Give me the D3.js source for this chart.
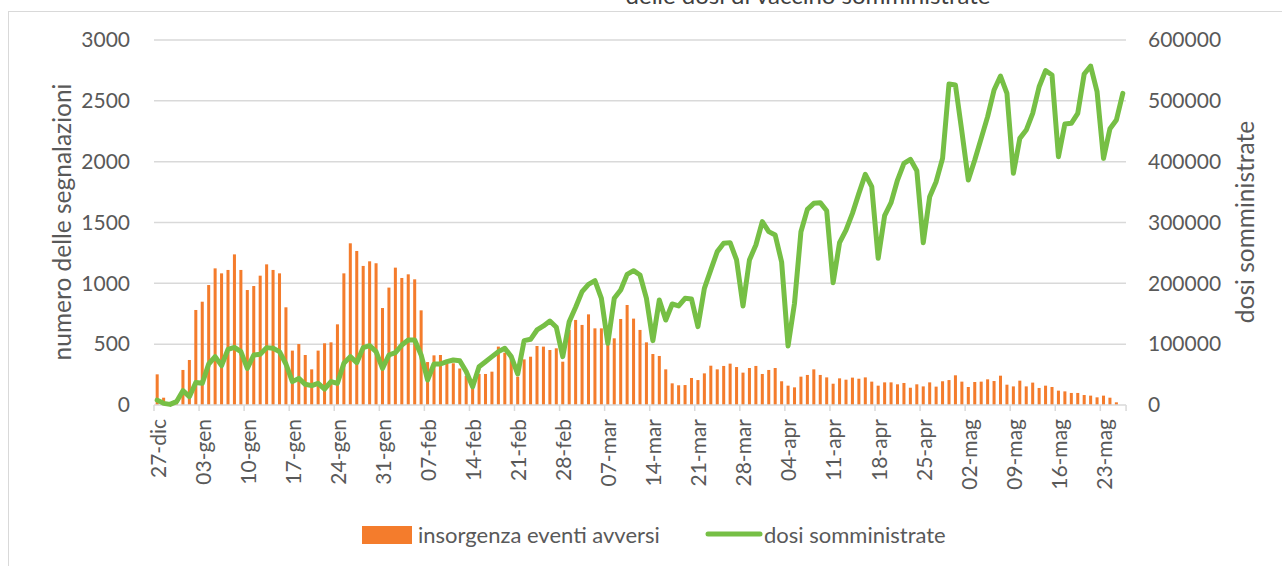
<!DOCTYPE html>
<html>
<head>
<meta charset="utf-8">
<script src="https://cdn.jsdelivr.net/npm/d3@7"></script>
<style>
  body { margin: 0; background: #fff; }
  svg text { font-family: Lato, "Open Sans", sans-serif; fill: #595959; }
</style>
</head>
<body>
<svg id="chart" width="1282" height="566"></svg>
<script>
// daily series, 27-dic 2020 .. 26-mag 2021
const startDate = new Date(2020, 11, 27);

const eventi = [
  252, 60, 15, 25, 288, 370, 781, 849, 986, 1123, 1082, 1110, 1238, 1110,
  945, 978, 1063, 1156, 1110, 1082, 803, 447, 501, 411, 293, 447, 507, 515,
  663, 1082, 1329, 1266, 1143, 1181, 1165, 797, 965, 1129, 1044, 1074, 1033, 778,
  353, 408, 411, 343, 343, 300, 240, 160, 255, 255, 274, 480, 430, 411,
  233, 375, 397, 485, 480, 452, 466, 356, 617, 699, 658, 745, 630, 630,
  560, 548, 707, 822, 710, 617, 515, 419, 403, 293, 178, 162, 164, 222,
  205, 260, 323, 293, 321, 340, 312, 266, 304, 321, 255, 288, 304, 195,
  159, 145, 233, 247, 293, 247, 227, 175, 219, 208, 225, 216, 227, 192,
  159, 186, 186, 170, 181, 142, 170, 153, 186, 151, 195, 205, 244, 192,
  148, 189, 192, 211, 197, 241, 167, 153, 200, 153, 184, 140, 159, 148,
  118, 112, 99, 99, 82, 77, 63, 77, 60, 22, 0
];

const dosi = [
  8000, 2700, 1000, 5500, 23500, 13700, 37000, 35600, 67400, 79500, 64700, 91500, 94800, 87700,
  60300, 82200, 83300, 94300, 93200, 87700, 67400, 38400, 43800, 34000, 31800, 35600, 26300, 38400,
  35600, 68500, 79500, 69600, 94300, 97500, 87700, 60300, 82200, 86000, 98600, 106900, 106900, 82200,
  41100, 67400, 67400, 71200, 74000, 72900, 55000, 30100, 63000, 71200, 79500, 87700, 93200, 79500,
  51000, 105800, 108000, 123300, 129900, 138100, 127700, 79500, 137000, 160600, 186300, 198400, 204400, 175400,
  101400, 175400, 189100, 214800, 220800, 213700, 175400, 105800, 172600, 139700, 166000, 162800, 175400, 174300,
  128800, 191800, 222000, 252100, 265800, 266900, 238400, 162800, 238400, 263000, 301400, 285000, 279500, 235000,
  97000, 167100, 284900, 321600, 331500, 332600, 319400, 201100, 266800, 287600, 315000, 347900, 379100, 358900,
  241100, 311200, 332600, 369800, 397200, 403800, 385200, 266800, 342400, 367100, 405400, 527600, 526000, 449300,
  369800, 402700, 438300, 474000, 517800, 540800, 512300, 380800, 438300, 452000, 479400, 523200, 549600, 542500,
  408200, 461900, 463000, 479400, 544100, 557200, 515000, 405400, 454200, 468500, 512300
];

const tickLabels = ["27-dic", "03-gen", "10-gen", "17-gen", "24-gen", "31-gen", "07-feb",
  "14-feb", "21-feb", "28-feb", "07-mar", "14-mar", "21-mar", "28-mar", "04-apr",
  "11-apr", "18-apr", "25-apr", "02-mag", "09-mag", "16-mag", "23-mag"];

const leftTicks = [0, 500, 1000, 1500, 2000, 2500, 3000];
const rightTicks = [0, 100000, 200000, 300000, 400000, 500000, 600000];

const days = d3.timeDay.range(startDate, d3.timeDay.offset(startDate, eventi.length));

const svg = d3.select("#chart");
const plotL = 154, plotR = 1126, plotT = 40, plotB = 405;

// outer chart frame
svg.append("rect")
  .attr("x", 8.5).attr("y", 11.5)
  .attr("width", 1300).attr("height", 600)
  .attr("fill", "none").attr("stroke", "#d9d9d9");

// title, cut off at the top as in the source image
svg.append("text")
  .attr("x", 808).attr("y", 4)
  .attr("text-anchor", "middle")
  .attr("font-size", 24)
  .style("fill", "#404040")
  .text("delle dosi di vaccino somministrate");

const x = d3.scaleBand()
  .domain(d3.range(days.length))
  .range([plotL, plotR])
  .paddingInner(0.53).paddingOuter(0.26);

const step = x.step();
const yL = d3.scaleLinear().domain([0, 3000]).range([plotB, plotT]);
const yR = d3.scaleLinear().domain([0, 600000]).range([plotB, plotT]);

// gridlines
svg.append("g")
  .selectAll("line")
  .data(leftTicks.slice(1))
  .join("line")
  .attr("x1", plotL).attr("x2", plotR)
  .attr("y1", d => yL(d)).attr("y2", d => yL(d))
  .attr("stroke", "#d9d9d9").attr("stroke-width", 1.5);

// left axis
const axL = svg.append("g")
  .attr("transform", `translate(${plotL - 24},0)`)
  .call(d3.axisLeft(yL).tickValues(leftTicks).tickFormat(d3.format("d")).tickSize(0).tickPadding(0));
axL.select(".domain").remove();

// right axis
const axR = svg.append("g")
  .attr("transform", `translate(${plotR + 22},0)`)
  .call(d3.axisRight(yR).tickValues(rightTicks).tickFormat(d3.format("d")).tickSize(0).tickPadding(0));
axR.select(".domain").remove();

svg.selectAll("g").attr("font-family", null).attr("font-size", null);
svg.selectAll(".tick text").attr("font-size", 21);

// bars
svg.append("g")
  .selectAll("rect")
  .data(eventi)
  .join("rect")
  .attr("x", (d, i) => x(i))
  .attr("y", d => yL(d))
  .attr("width", x.bandwidth())
  .attr("height", d => plotB - yL(d))
  .attr("fill", "#F47C2C");

// x axis line and ticks
svg.append("line")
  .attr("x1", plotL).attr("x2", plotR)
  .attr("y1", plotB).attr("y2", plotB)
  .attr("stroke", "#d9d9d9").attr("stroke-width", 1.5);

const tickIdx = tickLabels.map((t, i) => i * 7);
svg.append("g")
  .selectAll("line")
  .data(tickIdx.concat([days.length]))
  .join("line")
  .attr("x1", d => plotL + d * step).attr("x2", d => plotL + d * step)
  .attr("y1", plotB).attr("y2", plotB + 6)
  .attr("stroke", "#d9d9d9").attr("stroke-width", 1.5);

svg.append("g")
  .selectAll("text")
  .data(tickLabels)
  .join("text")
  .attr("transform", (d, i) => `translate(${x(tickIdx[i]) + x.bandwidth() / 2 + 1},${plotB + 14})rotate(-90)`)
  .attr("text-anchor", "end")
  .attr("dy", "0.35em")
  .attr("font-size", 21)
  .text(d => d);

// line
const line = d3.line()
  .x((d, i) => x(i) + x.bandwidth() / 2)
  .y(d => yR(d));

svg.append("path")
  .datum(dosi)
  .attr("d", line)
  .attr("fill", "none")
  .attr("stroke", "#76BF45")
  .attr("stroke-width", 5)
  .attr("stroke-linejoin", "round")
  .attr("stroke-linecap", "round");

// axis titles
svg.append("text")
  .attr("transform", "translate(62,222)rotate(-90)")
  .attr("text-anchor", "middle")
  .attr("dy", "0.35em")
  .attr("font-size", 24.5)
  .text("numero delle segnalazioni");

svg.append("text")
  .attr("transform", "translate(1245,222)rotate(-90)")
  .attr("text-anchor", "middle")
  .attr("dy", "0.35em")
  .attr("font-size", 24.5)
  .text("dosi somministrate");

// legend
const lg = svg.append("g");
lg.append("rect")
  .attr("x", 362).attr("y", 526).attr("width", 50).attr("height", 18)
  .attr("fill", "#F47C2C");
lg.append("text")
  .attr("x", 418).attr("y", 535).attr("dy", "0.35em")
  .attr("font-size", 22)
  .text("insorgenza eventi avversi");
lg.append("line")
  .attr("x1", 708).attr("x2", 760).attr("y1", 534).attr("y2", 534)
  .attr("stroke", "#76BF45").attr("stroke-width", 5).attr("stroke-linecap", "round");
lg.append("text")
  .attr("x", 764).attr("y", 535).attr("dy", "0.35em")
  .attr("font-size", 22)
  .text("dosi somministrate");
</script>
</body>
</html>
